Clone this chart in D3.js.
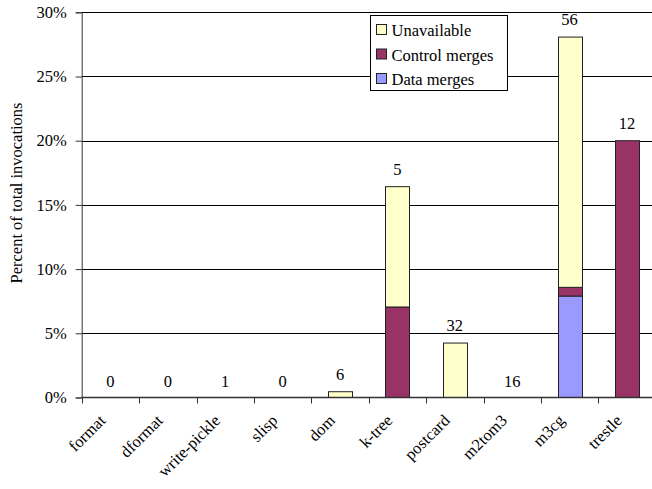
<!DOCTYPE html>
<html>
<head>
<meta charset="utf-8">
<script src="https://cdn.jsdelivr.net/npm/d3@7"></script>
<style>
  html, body { margin: 0; padding: 0; background: #fff; }
  svg { display: block; }
</style>
</head>
<body>
<svg id="chart" width="652" height="489"></svg>
<script>
// Benchmarks on the x axis
const programs = ["format", "dformat", "write-pickle", "slisp", "dom", "k-tree", "postcard", "m2tom3", "m3cg", "trestle"];
// Percent of total invocations, per merge kind (stacked bottom to top)
const dataMerges    = [0, 0, 0, 0, 0,    0,    0,    0, 7.9,  0];
const controlMerges = [0, 0, 0, 0, 0,    7.05, 0,    0, 0.68, 20.0];
const unavailable   = [0, 0, 0, 0, 0.45, 9.37, 4.24, 0, 19.49, 0];
// Count shown above each bar
const counts = [0, 0, 1, 0, 6, 5, 32, 16, 56, 12];
// Y axis ticks (percent)
const yTicks = [0, 5, 10, 15, 20, 25, 30];

const seriesNames = ["Data merges", "Control merges", "Unavailable"];
const seriesColors = { "Data merges": "#9999ff", "Control merges": "#993366", "Unavailable": "#ffffcc" };

const FONT = "'Liberation Serif', 'Times New Roman', Tinos, 'DejaVu Serif', serif";
const FS = "16.5px";

const rows = programs.map((p, i) => ({
  program: p,
  "Data merges": dataMerges[i],
  "Control merges": controlMerges[i],
  "Unavailable": unavailable[i]
}));

const svg = d3.select("#chart").style("font-family", FONT);
const plotLeft = 81.7, plotRight = 655.7, plotTop = 12.3, plotBottom = 397.5;

const x = d3.scaleBand().domain(programs).range([plotLeft, plotRight]).paddingInner(0).paddingOuter(0);
const y = d3.scaleLinear().domain([0, 30]).range([plotBottom, plotTop]);
const barW = x.bandwidth() * 0.42;

function styleText(sel) {
  return sel.style("font-family", FONT).style("font-size", FS).attr("fill", "#000");
}

// Horizontal gridlines
svg.append("g")
  .selectAll("line")
  .data(yTicks.filter(d => d > 0))
  .join("line")
  .attr("x1", plotLeft).attr("x2", plotRight)
  .attr("y1", d => Math.round(y(d)) + 0.5).attr("y2", d => Math.round(y(d)) + 0.5)
  .attr("stroke", "#000").attr("stroke-width", 1);

// Stacked bars
const stack = d3.stack().keys(seriesNames);
const layers = stack(rows);
svg.append("g")
  .selectAll("g")
  .data(layers)
  .join("g")
  .attr("fill", d => seriesColors[d.key])
  .selectAll("rect")
  .data(d => d.filter(s => s[1] - s[0] > 0))
  .join("rect")
  .attr("x", d => Math.round(x(d.data.program) + (x.bandwidth() - barW) / 2) + 0.5)
  .attr("y", d => y(d[1]))
  .attr("width", Math.round(barW))
  .attr("height", d => y(d[0]) - y(d[1]))
  .attr("stroke", "#222").attr("stroke-width", 1);

// Count labels above bars
const totals = rows.map(r => seriesNames.reduce((s, k) => s + r[k], 0));
svg.append("g")
  .selectAll("text")
  .data(programs)
  .join("text")
  .attr("x", d => x(d) + x.bandwidth() / 2)
  .attr("y", (d, i) => y(totals[i]) - (totals[i] > 0 ? 12 : 10.5))
  .attr("text-anchor", "middle")
  .call(styleText)
  .text((d, i) => counts[i]);

// Y axis
const yAxis = svg.append("g")
  .attr("transform", `translate(${plotLeft},0)`)
  .call(d3.axisLeft(y).tickValues(yTicks).tickFormat(d => d + "%").tickSize(6).tickPadding(9));
yAxis.attr("font-family", null).attr("font-size", null);
yAxis.select(".domain").attr("stroke", "#333");
yAxis.selectAll(".tick line").attr("stroke", "#333");
yAxis.selectAll("text").call(styleText);

// X axis: ticks on band boundaries
const xAxis = svg.append("g").attr("transform", `translate(0,${plotBottom})`);
xAxis.append("line")
  .attr("x1", plotLeft).attr("x2", plotRight).attr("y1", 0).attr("y2", 0)
  .attr("stroke", "#333").attr("stroke-width", 1.5);
xAxis.selectAll("line.tick")
  .data(programs.map(p => x(p)))
  .join("line")
  .attr("class", "tick")
  .attr("x1", d => Math.round(d) + 0.5).attr("x2", d => Math.round(d) + 0.5)
  .attr("y1", 0).attr("y2", 6)
  .attr("stroke", "#333");
xAxis.selectAll("text.label")
  .data(programs)
  .join("text")
  .attr("class", "label")
  .attr("transform", d => `translate(${x(d) + x.bandwidth() / 2 - 4},${24}) rotate(-45)`)
  .attr("text-anchor", "end")
  .call(styleText)
  .text(d => d);

// Y axis title
svg.append("text")
  .attr("transform", "translate(22,193) rotate(-90)")
  .attr("text-anchor", "middle")
  .call(styleText)
  .text("Percent of total invocations");

// Legend
const legend = svg.append("g");
legend.append("rect")
  .attr("x", 370.5).attr("y", 15.5).attr("width", 137).attr("height", 75)
  .attr("fill", "#fff").attr("stroke", "#000");
const legendOrder = ["Unavailable", "Control merges", "Data merges"];
const ly = d3.scalePoint().domain(legendOrder).range([30, 79]);
legendOrder.forEach(k => {
  legend.append("rect")
    .attr("x", 376.5).attr("y", ly(k) - 5.5).attr("width", 10).attr("height", 10)
    .attr("fill", seriesColors[k]).attr("stroke", "#222");
  legend.append("text")
    .attr("x", 391.5).attr("y", ly(k) + 6)
    .call(styleText)
    .text(k);
});
</script>
</body>
</html>
